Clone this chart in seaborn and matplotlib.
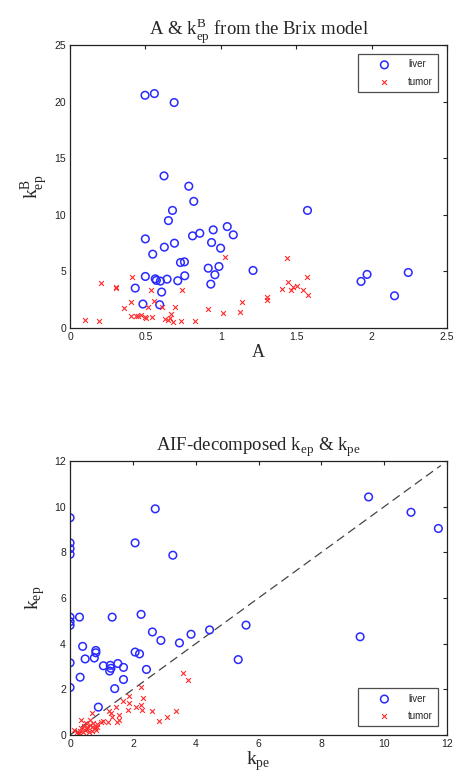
import pandas as pd
import matplotlib
matplotlib.use('Agg')
import matplotlib.pyplot as plt
import seaborn as sns

# Brix model: amplitude A vs k_ep^B
liver_A = [0.497, 0.559, 0.690, 0.623, 0.787, 0.82, 0.679, 0.652, 1.574, 0.499, 0.548, 0.625,
           0.692, 0.812, 0.86, 0.949, 1.042, 1.082, 0.938, 0.998, 0.916, 0.987, 0.96, 0.933,
           0.732, 0.758, 0.76, 0.714, 0.643, 0.599, 0.572, 0.565, 0.607, 0.499, 0.432, 0.483,
           0.594, 1.213, 1.929, 1.969, 2.151, 2.242]
liver_kepB = [20.58, 20.73, 19.94, 13.45, 12.54, 11.2, 10.4, 9.5, 10.4, 7.88, 6.53, 7.15,
              7.5, 8.15, 8.38, 8.68, 8.97, 8.24, 7.56, 7.06, 5.29, 5.44, 4.71, 3.88,
              5.79, 5.85, 4.62, 4.18, 4.32, 4.15, 4.21, 4.35, 3.18, 4.56, 3.53, 2.12,
              2.06, 5.09, 4.12, 4.74, 2.85, 4.91]
tumor_A = [0.1, 0.195, 0.204, 0.306, 0.306, 0.355, 0.41, 0.406, 0.406, 0.44, 0.448, 0.47,
           0.494, 0.506, 0.514, 0.539, 0.543, 0.554, 0.607, 0.632, 0.647, 0.665, 0.672, 0.68,
           0.698, 0.743, 0.736, 0.827, 0.916, 1.013, 1.024, 1.126, 1.142, 1.304, 1.304, 1.408,
           1.435, 1.448, 1.463, 1.475, 1.503, 1.541, 1.574, 1.579]
tumor_kepB = [0.68, 0.59, 3.97, 3.62, 3.53, 1.74, 4.47, 2.26, 1.03, 1.09, 1.03, 1.18,
              0.97, 0.88, 1.85, 3.38, 0.97, 2.35, 1.85, 0.79, 0.74, 0.88, 1.26, 0.5,
              1.82, 3.32, 0.59, 0.59, 1.68, 1.32, 6.32, 1.41, 2.26, 2.71, 2.5, 3.44,
              6.18, 4.03, 3.38, 3.62, 3.68, 3.32, 4.47, 2.94]

# AIF-decomposed: k_pe vs k_ep
liver_kpe = [0, 0, 0, 0, 2.71, 2.07, 3.27, 9.5, 10.85, 11.72,
             0, 0, 0, 0.3, 1.34, 2.26, 2.62, 2.89, 3.48, 3.85, 4.44, 5.6, 9.23, 5.35,
             0.4, 0.48, 0, 0.77, 0.82, 0.82, 0.32, 0, 1.06, 1.28, 1.26, 1.3, 1.52, 1.7,
             1.7, 1.42, 0.9, 2.07, 2.21, 2.43]
liver_kep = [9.51, 8.41, 8.16, 7.91, 9.9, 8.41, 7.87, 10.42, 9.75, 9.04,
             5.16, 4.96, 4.8, 5.16, 5.16, 5.28, 4.51, 4.14, 4.03, 4.41, 4.6, 4.81, 4.3, 3.3,
             3.88, 3.33, 3.16, 3.37, 3.7, 3.6, 2.53, 2.08, 3.03, 3.05, 2.8, 2.92, 3.13, 2.96,
             2.43, 2.03, 1.22, 3.63, 3.55, 2.87]
tumor_kpe = [0.34, 0.69, 0.98, 1.22, 1.3, 1.33, 1.57, 1.57, 1.47, 1.7, 1.86, 1.89,
             1.84, 2.11, 2.27, 2.29, 2.31, 2.26, 2.61, 2.84, 3.09, 3.37, 3.6, 3.76,
             0.11, 0.21, 0.32, 0.4, 0.34, 0.48, 0.53, 0.55, 0.62, 0.69, 0.74, 0.8, 0.83,
             0.85, 0.64, 0.51, 0.45, 0.87, 0.25, 0.3, 0.6, 0.7, 0.78, 1.25, 1.49, 1.05]
tumor_kep = [0.66, 0.95, 0.59, 0.59, 0.95, 0.78, 0.88, 0.66, 1.22, 1.47, 1.42, 1.71,
             1.1, 1.22, 1.32, 1.1, 1.63, 2.12, 1.03, 0.63, 0.78, 1.07, 2.71, 2.39,
             0.22, 0.15, 0.19, 0.15, 0.29, 0.22, 0.37, 0.25, 0.44, 0.37, 0.51, 0.29, 0.22,
             0.34, 0.66, 0.54, 0.4, 0.47, 0.05, 0.1, 0.12, 0.18, 0.3, 1.05, 0.58, 0.6]

# identity line end points (k_ep = k_pe)
identity_line = [0, 11.8]

top_xticks = [0, 0.5, 1, 1.5, 2, 2.5]
top_yticks = [0, 5, 10, 15, 20, 25]
bot_ticks = [0, 2, 4, 6, 8, 10, 12]

sns.set_style("white")
plt.rcParams['font.family'] = ['Liberation Sans', 'DejaVu Sans']
plt.rcParams['mathtext.fontset'] = 'custom'
plt.rcParams['mathtext.rm'] = 'Liberation Serif'
serif = ['Liberation Serif', 'DejaVu Serif']

fig = plt.figure(figsize=(4.61, 7.81), dpi=100)
ax1 = fig.add_axes([0.152, 0.580, 0.818, 0.362])
ax2 = fig.add_axes([0.152, 0.0589, 0.818, 0.351])


def style_axes(ax):
    for s in ax.spines.values():
        s.set_visible(True)
        s.set_color('#222222')
        s.set_linewidth(0.9)
    ax.tick_params(direction='in', length=3, width=0.8, labelsize=7.5,
                   top=True, right=True, pad=3, colors='#222222')


def draw(ax, lx, ly, tx, ty, loc):
    sns.scatterplot(x=lx, y=ly, ax=ax, marker='o', s=30, facecolor='none',
                    edgecolor='#2a2aff', linewidth=1.1, label='liver')
    sns.scatterplot(x=tx, y=ty, ax=ax, marker='x', s=12, color='#ff2a2a',
                    linewidth=0.8, label='tumor')
    leg = ax.legend(loc=loc, fontsize=7, frameon=True, fancybox=False,
                    edgecolor='#222222', handletextpad=0.25, borderpad=0.55,
                    labelspacing=0.75, handlelength=4.4, borderaxespad=0.9)
    leg.get_frame().set_linewidth(0.9)


draw(ax1, liver_A, liver_kepB, tumor_A, tumor_kepB, 'upper right')
ax1.set_xlim(0, 2.5)
ax1.set_ylim(0, 25)
ax1.set_xticks(top_xticks)
ax1.set_xticklabels(['0', '0.5', '1', '1.5', '2', '2.5'])
ax1.set_yticks(top_yticks)
style_axes(ax1)
ax1.set_title(r'A & k$_{\mathrm{ep}}^{\mathrm{B}}$ from the Brix model',
              family=serif, fontsize=13.5, pad=7)
ax1.set_xlabel('A', family=serif, fontsize=13, labelpad=1)
ax1.set_ylabel(r'k$_{\mathrm{ep}}^{\mathrm{B}}$', family=serif, fontsize=14, labelpad=3)

sns.lineplot(x=identity_line, y=identity_line, ax=ax2, color='#444444',
             linewidth=0.9, linestyle=(0, (7, 4)), legend=False, zorder=1)
draw(ax2, liver_kpe, liver_kep, tumor_kpe, tumor_kep, 'lower right')
ax2.set_xlim(0, 12)
ax2.set_ylim(0, 12)
ax2.set_xticks(bot_ticks)
ax2.set_yticks(bot_ticks)
style_axes(ax2)
ax2.set_title(r'AIF-decomposed k$_{\mathrm{ep}}$ & k$_{\mathrm{pe}}$',
              family=serif, fontsize=13.5, pad=7)
ax2.set_xlabel(r'k$_{\mathrm{pe}}$', family=serif, fontsize=14, labelpad=0)
ax2.set_ylabel(r'k$_{\mathrm{ep}}$', family=serif, fontsize=14, labelpad=5)

fig.savefig('out.png', dpi=100)
